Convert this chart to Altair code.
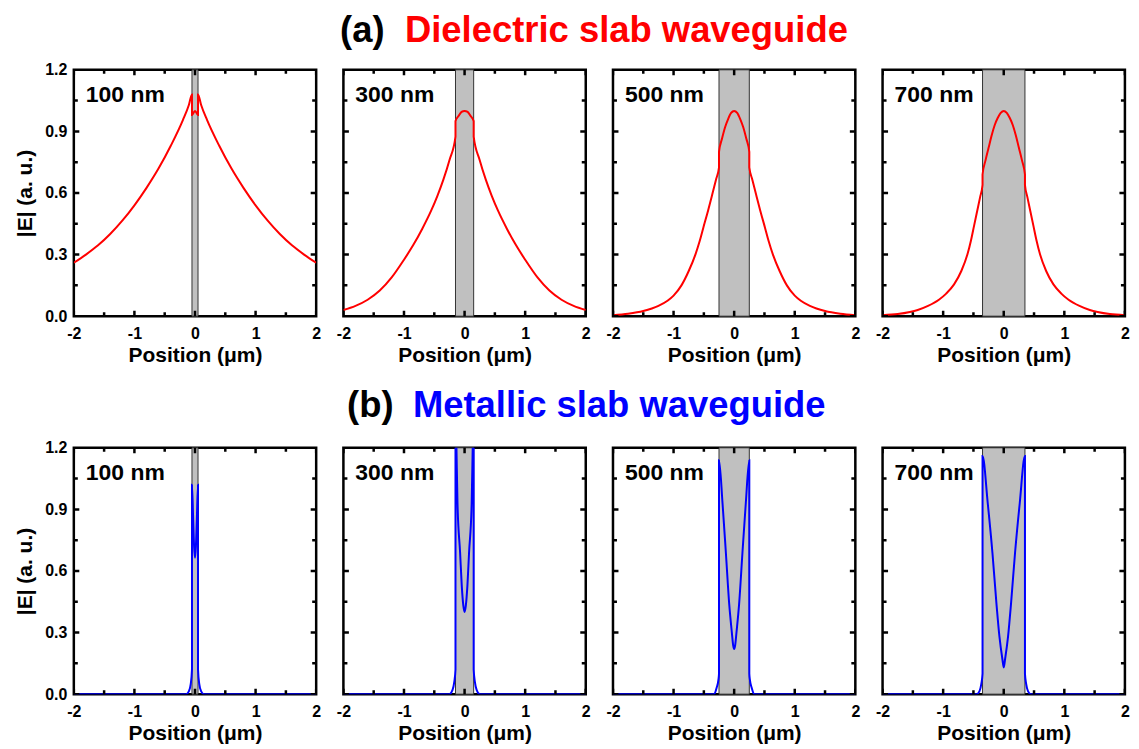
import altair as alt
import pandas as pd

FONT = "Liberation Sans"
W, H = 243, 247
GAP = 27.3

# axis limits and tick positions
X_DOMAIN = [-2, 2]
Y_DOMAIN = [0, 1.2]
x_major = [-2, -1, 0, 1, 2]
x_minor = [-1.5, -0.5, 0.5, 1.5]
y_major = [0.0, 0.3, 0.6, 0.9, 1.2]
y_minor = [0.15, 0.45, 0.75, 1.05]

thickness_labels = ["100 nm", "300 nm", "500 nm", "700 nm"]
slab_half = [0.05, 0.15, 0.25, 0.35]   # half thickness of the slab (um)

# ---- (a) dielectric slab: |E| profiles ----
d100_x = [-2.0, -1.8, -1.6, -1.4, -1.2, -1.0, -0.8, -0.6, -0.4, -0.2, -0.1, -0.05,
          -0.05, -0.025, 0.0, 0.025, 0.05,
          0.05, 0.1, 0.2, 0.4, 0.6, 0.8, 1.0, 1.2, 1.4, 1.6, 1.8, 2.0]
d100_y = [0.26, 0.30, 0.345, 0.40, 0.465, 0.54, 0.625, 0.72, 0.83, 0.955, 1.03, 1.08,
          0.98, 0.99, 1.0, 0.99, 0.98,
          1.08, 1.03, 0.955, 0.83, 0.72, 0.625, 0.54, 0.465, 0.40, 0.345, 0.30, 0.26]

d300_x = [-2.0, -1.8, -1.6, -1.4, -1.2, -1.0, -0.85, -0.7, -0.55, -0.45, -0.35, -0.25, -0.15,
          -0.15, -0.1, -0.05, 0.0, 0.05, 0.1, 0.15,
          0.15, 0.25, 0.35, 0.45, 0.55, 0.7, 0.85, 1.0, 1.2, 1.4, 1.6, 1.8, 2.0]
d300_y = [0.03, 0.05, 0.08, 0.125, 0.19, 0.275, 0.345, 0.425, 0.515, 0.585, 0.665, 0.76, 0.875,
          0.95, 0.975, 0.995, 1.0, 0.995, 0.975, 0.95,
          0.875, 0.76, 0.665, 0.585, 0.515, 0.425, 0.345, 0.275, 0.19, 0.125, 0.08, 0.05, 0.03]

d500_x = [-2.0, -1.75, -1.5, -1.25, -1.1, -1.0, -0.87, -0.75, -0.64, -0.57, -0.51, -0.43, -0.36, -0.3, -0.25,
          -0.25, -0.2, -0.15, -0.1, -0.05, 0.0, 0.05, 0.1, 0.15, 0.2, 0.25,
          0.25, 0.3, 0.36, 0.43, 0.51, 0.57, 0.64, 0.75, 0.87, 1.0, 1.1, 1.25, 1.5, 1.75, 2.0]
d500_y = [0.005, 0.012, 0.025, 0.05, 0.075, 0.10, 0.15, 0.22, 0.30, 0.365, 0.43, 0.515, 0.595, 0.665, 0.725,
          0.80, 0.865, 0.92, 0.96, 0.99, 1.0, 0.99, 0.96, 0.92, 0.865, 0.80,
          0.725, 0.665, 0.595, 0.515, 0.43, 0.365, 0.30, 0.22, 0.15, 0.10, 0.075, 0.05, 0.025, 0.012, 0.005]

d700_x = [-2.0, -1.75, -1.55, -1.42, -1.25, -1.07, -0.95, -0.82, -0.7, -0.6, -0.54, -0.49, -0.44, -0.39, -0.35,
          -0.35, -0.3, -0.25, -0.2, -0.15, -0.1, -0.05, 0.0, 0.05, 0.1, 0.15, 0.2, 0.25, 0.3, 0.35,
          0.35, 0.39, 0.44, 0.49, 0.54, 0.6, 0.7, 0.82, 0.95, 1.07, 1.25, 1.42, 1.55, 1.75, 2.0]
d700_y = [0.005, 0.01, 0.02, 0.03, 0.05, 0.08, 0.11, 0.155, 0.22, 0.30, 0.37, 0.44, 0.51, 0.58, 0.64,
          0.69, 0.76, 0.82, 0.88, 0.93, 0.965, 0.99, 1.0, 0.99, 0.965, 0.93, 0.88, 0.82, 0.76, 0.69,
          0.64, 0.58, 0.51, 0.44, 0.37, 0.30, 0.22, 0.155, 0.11, 0.08, 0.05, 0.03, 0.02, 0.01, 0.005]

# ---- (b) metallic slab: |E| profiles ----
m100_x = [-2.0, -0.15, -0.1, -0.07, -0.05, -0.05, -0.03, -0.015, 0.0, 0.015, 0.03, 0.05, 0.05,
          0.07, 0.1, 0.15, 2.0]
m100_y = [0.0, 0.0, 0.015, 0.05, 0.12, 1.02, 0.85, 0.72, 0.665, 0.72, 0.85, 1.02, 0.12,
          0.05, 0.015, 0.0, 0.0]

m300_x = [-2.0, -0.25, -0.2, -0.17, -0.15, -0.15, -0.134, -0.117, -0.074, -0.047, -0.02, 0.0,
          0.02, 0.047, 0.074, 0.117, 0.134, 0.15, 0.15, 0.17, 0.2, 0.25, 2.0]
m300_y = [0.0, 0.0, 0.02, 0.06, 0.12, 1.45, 1.2, 0.93, 0.69, 0.53, 0.43, 0.40,
          0.43, 0.53, 0.69, 0.93, 1.2, 1.45, 0.12, 0.06, 0.02, 0.0, 0.0]

m500_x = [-2.0, -0.33, -0.29, -0.26, -0.25, -0.25, -0.192, -0.137, -0.082, -0.038, -0.015, 0.0,
          0.015, 0.038, 0.082, 0.137, 0.192, 0.25, 0.25, 0.26, 0.29, 0.33, 2.0]
m500_y = [0.0, 0.0, 0.03, 0.07, 0.10, 1.14, 0.93, 0.69, 0.44, 0.30, 0.235, 0.22,
          0.235, 0.30, 0.44, 0.69, 0.93, 1.14, 0.10, 0.07, 0.03, 0.0, 0.0]

m700_x = [-2.0, -0.45, -0.40, -0.37, -0.35, -0.35, -0.264, -0.187, -0.12, -0.071, -0.022, 0.0,
          0.022, 0.071, 0.12, 0.187, 0.264, 0.35, 0.35, 0.37, 0.40, 0.45, 2.0]
m700_y = [0.0, 0.0, 0.015, 0.05, 0.10, 1.16, 0.93, 0.69, 0.44, 0.28, 0.17, 0.13,
          0.17, 0.28, 0.44, 0.69, 0.93, 1.16, 0.10, 0.05, 0.015, 0.0, 0.0]

dielectric = [(d100_x, d100_y), (d300_x, d300_y), (d500_x, d500_y), (d700_x, d700_y)]
metallic = [(m100_x, m100_y), (m300_x, m300_y), (m500_x, m500_y), (m700_x, m700_y)]

XSCALE = alt.Scale(domain=X_DOMAIN, nice=False, zero=False)
YSCALE = alt.Scale(domain=Y_DOMAIN, nice=False, zero=False)

XAXIS = alt.Axis(values=x_major, labelExpr="'' + datum.value", ticks=False, domain=False, grid=False,
                 labelFont=FONT, labelFontSize=16, labelFontWeight="bold", labelColor="black",
                 labelPadding=9, labelOverlap=False, labelFlush=False,
                 title="Position (\u03bcm)", titleFont=FONT, titleFontSize=21, titleFontWeight="bold",
                 titleColor="black", titlePadding=3)
YAXIS = alt.Axis(values=y_major, format=".1f", ticks=False, domain=False, grid=False,
                 labelFont=FONT, labelFontSize=16, labelFontWeight="bold", labelColor="black",
                 labelPadding=7, labelOverlap=False, labelFlush=False,
                 title="|E| (a. u.)", titleFont=FONT, titleFontSize=21, titleFontWeight="bold",
                 titleColor="black", titlePadding=9)


def xenc(field):
    return alt.X(field, type="quantitative", scale=XSCALE, axis=XAXIS)


def yenc(field, show_axis):
    return alt.Y(field, type="quantitative", scale=YSCALE, axis=YAXIS if show_axis else None)


def tick_frames():
    hrows, vrows = [], []
    for v in y_major:
        hrows += [dict(x=X_DOMAIN[0], y=v, s=11), dict(x=X_DOMAIN[1], y=v, s=11)]
    for v in y_minor:
        hrows += [dict(x=X_DOMAIN[0], y=v, s=8), dict(x=X_DOMAIN[1], y=v, s=8)]
    for v in x_major:
        vrows += [dict(x=v, y=Y_DOMAIN[0], s=11), dict(x=v, y=Y_DOMAIN[1], s=11)]
    for v in x_minor:
        vrows += [dict(x=v, y=Y_DOMAIN[0], s=8), dict(x=v, y=Y_DOMAIN[1], s=8)]
    return pd.DataFrame(hrows), pd.DataFrame(vrows)


def panel(curve, half, label, color, show_y):
    xs, ys = curve
    line_df = pd.DataFrame({"x": xs, "y": ys, "i": list(range(len(xs)))})
    slab_df = pd.DataFrame({"x": [-half], "x2": [half], "y": [Y_DOMAIN[0]], "y2": [Y_DOMAIN[1]]})
    hdf, vdf = tick_frames()

    slab = alt.Chart(slab_df).mark_rect(fill="#c0c0c0", stroke="#333333", strokeWidth=1).encode(
        x=xenc("x"), x2="x2:Q", y=yenc("y", show_y), y2="y2:Q")
    line = alt.Chart(line_df).mark_line(color=color, strokeWidth=2, clip=True,
                                        interpolate="monotone").encode(
        x=xenc("x"), y=yenc("y", show_y), order=alt.Order("i:Q"))
    hticks = alt.Chart(hdf).mark_tick(orient="horizontal", thickness=2.5, color="black",
                                      clip=True, opacity=1).encode(
        x=xenc("x"), y=yenc("y", show_y), size=alt.Size("s:Q", scale=None, legend=None))
    vticks = alt.Chart(vdf).mark_tick(orient="vertical", thickness=2.5, color="black",
                                      clip=True, opacity=1).encode(
        x=xenc("x"), y=yenc("y", show_y), size=alt.Size("s:Q", scale=None, legend=None))
    txt = alt.Chart(pd.DataFrame({"t": [label]})).mark_text(
        align="left", baseline="middle", font=FONT, fontSize=23, fontWeight="bold",
        color="black").encode(x=alt.value(12), y=alt.value(25), text="t:N")
    return alt.layer(slab, line, hticks, vticks, txt).properties(width=W, height=H)


def row(curves, color):
    charts = [panel(curves[k], slab_half[k], thickness_labels[k], color, k == 0) for k in range(4)]
    return alt.hconcat(*charts, spacing=GAP, bounds="flush")


def title_chart(parts, xs, colors, h, ty):
    layers = []
    for t, x, c in zip(parts, xs, colors):
        layers.append(alt.Chart(pd.DataFrame({"t": [t]})).mark_text(
            align="left", baseline="middle", font=FONT, fontSize=36.5, fontWeight="bold",
            color=c).encode(x=alt.value(x), y=alt.value(ty), text="t:N"))
    return alt.layer(*layers).properties(
        width=4 * W + 3 * GAP, height=h,
        view=alt.ViewBackground(stroke="transparent", strokeWidth=0))


title_a = title_chart(["(a)", "Dielectric slab waveguide"], [267, 332], ["black", "#ff0000"], 53, 24)
title_b = title_chart(["(b)", "Metallic slab waveguide"], [274, 340], ["black", "#0000ff"], 71, 39)

chart = alt.vconcat(
    title_a, row(dielectric, "#ff0000"), title_b, row(metallic, "#0000ff"),
    spacing=0
).properties(
    padding={"left": 5, "top": -2, "right": 0, "bottom": 0}
).configure_view(
    stroke="black", strokeWidth=2.5
)

chart.save("out.html", embed_options={"renderer": "svg", "actions": False})
